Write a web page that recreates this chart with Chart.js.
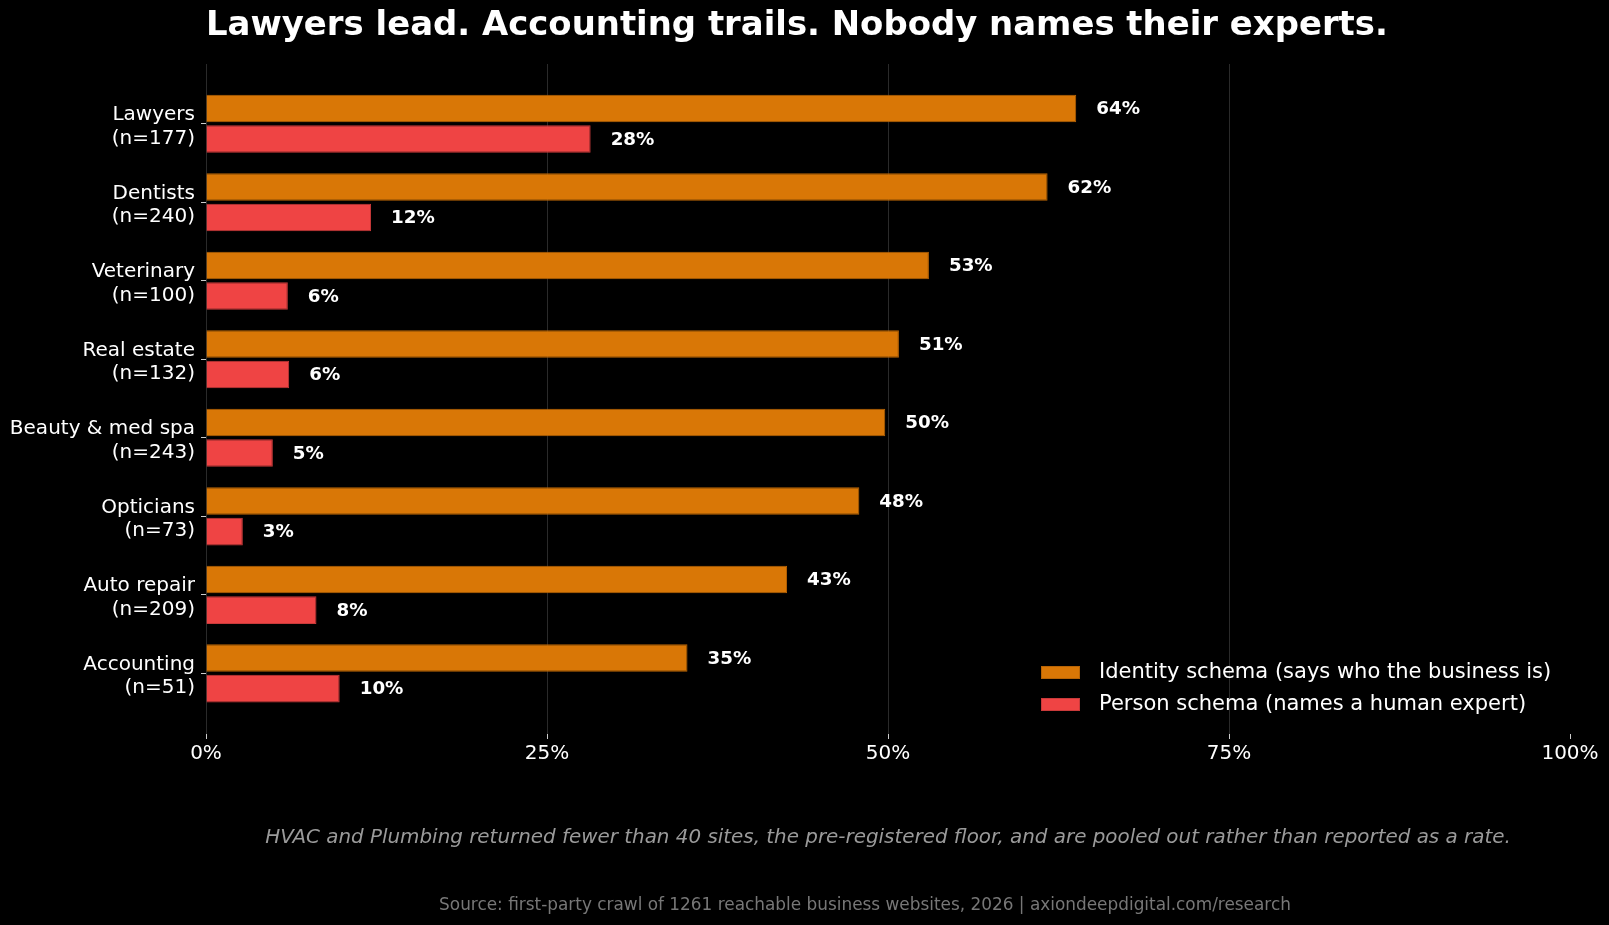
<!DOCTYPE html>
<html>
<head>
<meta charset="utf-8">
<script src="https://cdn.jsdelivr.net/npm/chart.js@4.4.1/dist/chart.umd.min.js"></script>
<style>
html,body{margin:0;padding:0;background:#000}
body{width:1609px;height:925px;position:relative;overflow:hidden;font-family:'DejaVu Sans',sans-serif;color:#fff}
#chart{position:absolute;left:0;top:0}
.title{position:absolute;left:206px;top:4px;font-size:33.9px;font-weight:bold;line-height:40px;white-space:nowrap}
.note{position:absolute;transform:translateX(-50%);white-space:nowrap}
#note{left:888px;top:825px;font-size:19.9px;font-style:italic;color:#9a9a9a}
#src{left:865px;top:894px;font-size:16.9px;color:#777}
.leg{position:absolute;left:1041px;height:24px;line-height:24px;font-size:21px;white-space:nowrap}
.leg i{position:absolute;left:0;top:7.5px;width:39px;height:13px;box-sizing:border-box;border:1px solid}
.leg span{position:absolute;left:58px;top:0}
</style>
</head>
<body>
<canvas id="chart" width="1609" height="925"></canvas>
<div class="title">Lawyers lead. Accounting trails. Nobody names their experts.</div>
<div id="legend"></div>
<div class="note" id="note">HVAC and Plumbing returned fewer than 40 sites, the pre-registered floor, and are pooled out rather than reported as a rate.</div>
<div class="note" id="src">Source: first-party crawl of 1261 reachable business websites, 2026 | axiondeepdigital.com/research</div>
<script>
/* ===== DATA ===== */
const categories=['Lawyers','Dentists','Veterinary','Real estate','Beauty & med spa','Opticians','Auto repair','Accounting'];
const sampleSizes=[177,240,100,132,243,73,209,51];
const identityPct=[63.8,61.7,53.0,50.8,49.8,47.9,42.6,35.3];
const personPct=[28.2,12.1,6.0,6.1,4.9,2.7,8.1,9.8];
const seriesNames=['Identity schema (says who the business is)','Person schema (names a human expert)'];
const seriesColors=['#d97706','#ef4444'];
const seriesEdges=['#b86405','#c93a3a'];
const xTickValues=[0,25,50,75,100];

const FONT="'DejaVu Sans'";

// bar-end value labels
const valueLabels={
  id:'valueLabels',
  afterDatasetsDraw(chart){
    const ctx=chart.ctx;
    ctx.save();
    ctx.font='bold 18.3px '+FONT;
    ctx.fillStyle='#fff';
    ctx.textBaseline='middle';
    ctx.textAlign='left';
    chart.data.datasets.forEach((ds,di)=>{
      chart.getDatasetMeta(di).data.forEach((bar,i)=>{
        ctx.fillText(Math.round(ds.data[i])+'%',bar.x+20,bar.y+1);
      });
    });
    ctx.restore();
  }
};

const datasets=[identityPct,personPct].map((d,i)=>({
  label:seriesNames[i],data:d,
  backgroundColor:seriesColors[i],borderColor:seriesEdges[i],borderWidth:1,
  categoryPercentage:0.78,barPercentage:0.9
}));

new Chart(document.getElementById('chart').getContext('2d'),{
  type:'bar',
  data:{labels:categories.map((c,i)=>[c,'(n='+sampleSizes[i]+')']),datasets},
  options:{
    indexAxis:'y',responsive:false,animation:false,
    layout:{padding:{top:64,right:39,bottom:156,left:0}},
    plugins:{legend:{display:false},tooltip:{enabled:false},title:{display:false}},
    scales:{
      x:{
        min:0,max:100,
        afterBuildTicks:s=>{s.ticks=xTickValues.map(v=>({value:v}));},
        grid:{color:c=>c.tick&&c.tick.value===100?'rgba(0,0,0,0)':'#2a2a2a',tickColor:'#cccccc',tickLength:5,lineWidth:1},
        border:{display:false},
        ticks:{color:'#ffffff',font:{family:FONT,size:20},padding:3,callback:v=>v+'%'}
      },
      y:{
        grid:{drawOnChartArea:false,offset:false,tickLength:5,tickColor:'#cccccc'},
        border:{display:false},
        ticks:{color:'#ffffff',font:{family:FONT,size:20,lineHeight:1.18},padding:6,autoSkip:false,labelOffset:3},
        // matplotlib-style margin above first / below last category
        afterBuildTicks:s=>{s._startValue=-0.761;s._valueRange=8.534;},
        afterFit:s=>{s.width=206;}
      }
    }
  },
  plugins:[valueLabels]
});

// legend in lower right of plot
const legCenters=[672.5,704.5];
const legEl=document.getElementById('legend');
seriesNames.forEach((n,i)=>{
  const row=document.createElement('div');
  row.className='leg';
  row.style.top=(legCenters[i]-14)+'px';
  row.innerHTML=`<i style="background:${seriesColors[i]};border-color:${seriesEdges[i]}"></i><span>${n}</span>`;
  legEl.appendChild(row);
});
</script>
</body>
</html>
